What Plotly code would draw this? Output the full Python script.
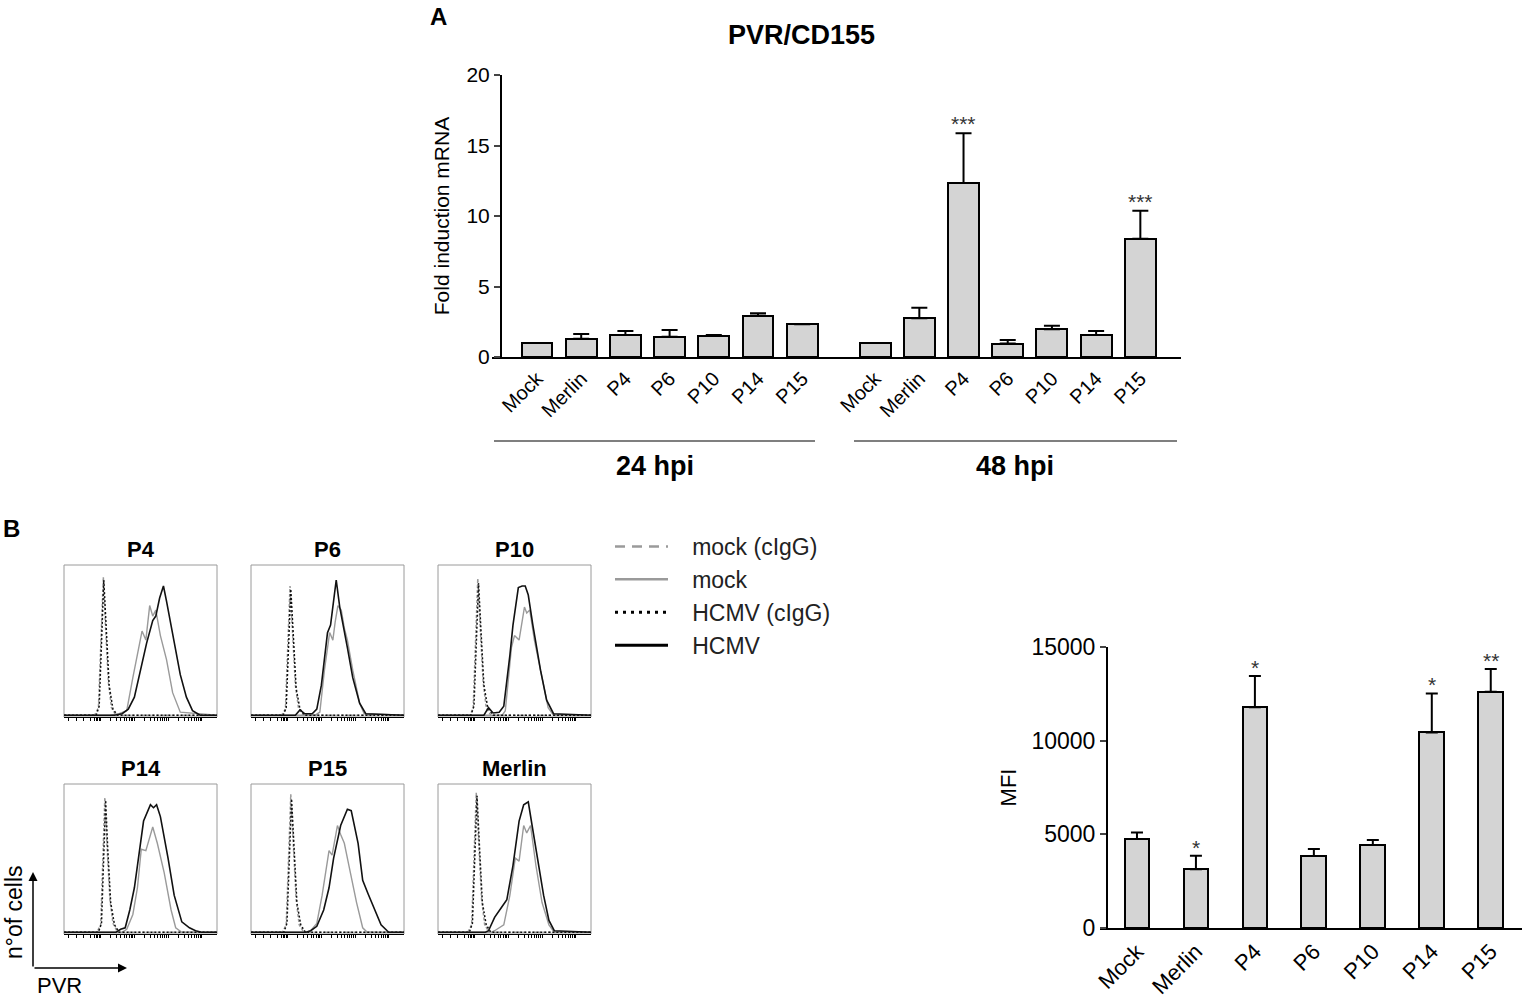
import numpy as np
import plotly.graph_objects as go

W, H = 1535, 999
FONT = "Liberation Sans, Arial, sans-serif"

# ---------------- panel A : PVR/CD155 mRNA ----------------
A_LABELS = ["Mock", "Merlin", "P4", "P6", "P10", "P14", "P15"]
A_24H = [1.0, 1.30, 1.56, 1.44, 1.49, 2.93, 2.32]
A_24H_ERR = [0.0, 0.33, 0.28, 0.47, 0.07, 0.17, 0.0]
A_48H = [1.0, 2.74, 12.34, 0.95, 1.96, 1.56, 8.39]
A_48H_ERR = [0.0, 0.76, 3.52, 0.25, 0.26, 0.28, 1.99]
A_48H_STARS = ["", "", "***", "", "", "", "***"]
A_YTICKS = [0, 5, 10, 15, 20]
A_GROUPS = ["24 hpi", "48 hpi"]

# ---------------- panel B : MFI ----------------
B_LABELS = ["Mock", "Merlin", "P4", "P6", "P10", "P14", "P15"]
B_MFI = [4750, 3130, 11780, 3840, 4430, 10440, 12610]
B_MFI_ERR = [350, 730, 1670, 375, 270, 2080, 1210]
B_STARS = ["", "*", "*", "", "", "*", "**"]
B_YTICKS = [0, 5000, 10000, 15000]
B_YTICK_LABELS = ["0", "5000", "10000", "15000"]

# ---------------- panel B : histograms (0-1 scale) ----------------
HIST_PANELS = ["P4", "P6", "P10", "P14", "P15", "Merlin"]
LEGEND_NAMES = ["mock (cIgG)", "mock", "HCMV (cIgG)", "HCMV"]

P4_MOCK_IGG_X = [0.0, 0.20, 0.225, 0.24, 0.257, 0.27, 0.29, 0.31, 0.34, 1.0]
P4_MOCK_IGG_Y = [0, 0, 0.05, 0.45, 0.92, 0.62, 0.22, 0.05, 0.0, 0]
P4_HCMV_IGG_X = [0.0, 0.21, 0.23, 0.245, 0.26, 0.275, 0.295, 0.32, 0.35, 1.0]
P4_HCMV_IGG_Y = [0, 0, 0.06, 0.5, 0.90, 0.6, 0.2, 0.04, 0, 0]
P4_MOCK_X = [0, 0.30, 0.36, 0.41, 0.45, 0.49, 0.51, 0.535, 0.56, 0.58, 0.60, 0.63, 0.67, 0.71, 0.76, 1.0]
P4_MOCK_Y = [0, 0, 0.01, 0.03, 0.25, 0.45, 0.56, 0.50, 0.73, 0.66, 0.70, 0.53, 0.37, 0.15, 0.02, 0]
P4_HCMV_X = [0, 0.33, 0.38, 0.42, 0.46, 0.50, 0.54, 0.58, 0.60, 0.625, 0.65, 0.67, 0.70, 0.73, 0.76, 0.80, 0.84, 0.89, 1.0]
P4_HCMV_Y = [0, 0, 0.01, 0.04, 0.12, 0.3, 0.48, 0.63, 0.66, 0.78, 0.86, 0.76, 0.6, 0.42, 0.27, 0.12, 0.03, 0, 0]

P6_MOCK_IGG_X = [0, 0.20, 0.225, 0.24, 0.255, 0.27, 0.29, 0.31, 0.34, 1]
P6_MOCK_IGG_Y = [0, 0, 0.04, 0.42, 0.86, 0.58, 0.2, 0.05, 0, 0]
P6_HCMV_IGG_X = [0, 0.21, 0.23, 0.245, 0.26, 0.275, 0.295, 0.32, 0.35, 1]
P6_HCMV_IGG_Y = [0, 0, 0.05, 0.45, 0.84, 0.56, 0.18, 0.04, 0, 0]
P6_MOCK_X = [0, 0.42, 0.45, 0.48, 0.514, 0.535, 0.55, 0.568, 0.59, 0.61, 0.63, 0.665, 0.71, 0.74, 1]
P6_MOCK_Y = [0, 0, 0.02, 0.3, 0.55, 0.5, 0.62, 0.73, 0.70, 0.58, 0.5, 0.3, 0.08, 0.01, 0]
P6_HCMV_X = [0, 0.29, 0.32, 0.35, 0.40, 0.43, 0.46, 0.48, 0.50, 0.52, 0.54, 0.557, 0.58, 0.60, 0.63, 0.665, 0.71, 0.75, 1]
P6_HCMV_Y = [0, 0, 0.035, 0.01, 0.01, 0.04, 0.2, 0.38, 0.55, 0.6, 0.78, 0.90, 0.72, 0.62, 0.45, 0.25, 0.08, 0.01, 0]

P10_MOCK_IGG_X = [0, 0.21, 0.23, 0.245, 0.26, 0.275, 0.295, 0.315, 0.345, 1]
P10_MOCK_IGG_Y = [0, 0, 0.05, 0.5, 0.91, 0.6, 0.22, 0.05, 0, 0]
P10_HCMV_IGG_X = [0, 0.215, 0.235, 0.25, 0.265, 0.28, 0.30, 0.325, 0.36, 1]
P10_HCMV_IGG_Y = [0, 0, 0.06, 0.5, 0.88, 0.58, 0.2, 0.05, 0, 0]
P10_MOCK_X = [0, 0.42, 0.44, 0.48, 0.50, 0.53, 0.565, 0.58, 0.60, 0.63, 0.68, 0.72, 0.755, 1]
P10_MOCK_Y = [0, 0, 0.03, 0.45, 0.53, 0.5, 0.72, 0.68, 0.70, 0.5, 0.25, 0.05, 0, 0]
P10_HCMV_X = [0, 0.30, 0.33, 0.36, 0.40, 0.43, 0.47, 0.49, 0.525, 0.55, 0.57, 0.59, 0.62, 0.67, 0.71, 0.755, 1]
P10_HCMV_Y = [0, 0, 0.05, 0.015, 0.02, 0.06, 0.4, 0.6, 0.85, 0.86, 0.86, 0.8, 0.6, 0.3, 0.1, 0.01, 0]

P14_MOCK_IGG_X = [0, 0.215, 0.24, 0.255, 0.267, 0.28, 0.30, 0.32, 0.35, 1]
P14_MOCK_IGG_Y = [0, 0, 0.05, 0.48, 0.91, 0.6, 0.22, 0.06, 0, 0]
P14_HCMV_IGG_X = [0, 0.225, 0.245, 0.26, 0.272, 0.285, 0.305, 0.33, 0.36, 1]
P14_HCMV_IGG_Y = [0, 0, 0.06, 0.5, 0.89, 0.58, 0.2, 0.05, 0, 0]
P14_MOCK_X = [0, 0.38, 0.41, 0.45, 0.48, 0.505, 0.535, 0.58, 0.61, 0.655, 0.70, 0.73, 0.77, 1]
P14_MOCK_Y = [0, 0, 0.02, 0.12, 0.3, 0.56, 0.55, 0.71, 0.60, 0.4, 0.15, 0.03, 0, 0]
P14_HCMV_X = [0, 0.34, 0.37, 0.40, 0.43, 0.46, 0.48, 0.52, 0.565, 0.585, 0.605, 0.63, 0.68, 0.72, 0.77, 0.82, 0.86, 0.9, 1]
P14_HCMV_Y = [0, 0, 0.02, 0.03, 0.15, 0.3, 0.45, 0.75, 0.86, 0.84, 0.86, 0.78, 0.5, 0.25, 0.07, 0.03, 0.01, 0, 0]

P15_MOCK_IGG_X = [0, 0.205, 0.23, 0.245, 0.26, 0.275, 0.295, 0.315, 0.345, 1]
P15_MOCK_IGG_Y = [0, 0, 0.05, 0.5, 0.93, 0.62, 0.22, 0.05, 0, 0]
P15_HCMV_IGG_X = [0, 0.215, 0.235, 0.25, 0.265, 0.28, 0.30, 0.325, 0.355, 1]
P15_HCMV_IGG_Y = [0, 0, 0.06, 0.52, 0.90, 0.6, 0.2, 0.05, 0, 0]
P15_MOCK_X = [0, 0.36, 0.39, 0.43, 0.465, 0.51, 0.53, 0.565, 0.586, 0.61, 0.64, 0.69, 0.73, 0.76, 1]
P15_MOCK_Y = [0, 0, 0.01, 0.06, 0.25, 0.55, 0.52, 0.72, 0.66, 0.6, 0.45, 0.2, 0.03, 0, 0]
P15_HCMV_X = [0, 0.36, 0.39, 0.43, 0.475, 0.51, 0.54, 0.586, 0.63, 0.655, 0.70, 0.73, 0.765, 0.81, 0.85, 0.90, 1]
P15_HCMV_Y = [0, 0, 0.01, 0.04, 0.15, 0.3, 0.5, 0.72, 0.83, 0.82, 0.6, 0.35, 0.26, 0.15, 0.05, 0, 0]

MERLIN_MOCK_IGG_X = [0, 0.195, 0.22, 0.235, 0.25, 0.265, 0.285, 0.305, 0.335, 1]
MERLIN_MOCK_IGG_Y = [0, 0, 0.05, 0.5, 0.94, 0.62, 0.22, 0.05, 0, 0]
MERLIN_HCMV_IGG_X = [0, 0.205, 0.225, 0.24, 0.255, 0.27, 0.29, 0.315, 0.345, 1]
MERLIN_HCMV_IGG_Y = [0, 0, 0.06, 0.52, 0.92, 0.6, 0.2, 0.05, 0, 0]
MERLIN_MOCK_X = [0, 0.35, 0.37, 0.43, 0.47, 0.505, 0.53, 0.56, 0.58, 0.605, 0.64, 0.68, 0.725, 0.76, 1]
MERLIN_MOCK_Y = [0, 0, 0.01, 0.05, 0.25, 0.5, 0.48, 0.72, 0.67, 0.72, 0.45, 0.2, 0.05, 0, 0]
MERLIN_HCMV_X = [0, 0.31, 0.33, 0.37, 0.41, 0.45, 0.49, 0.53, 0.56, 0.59, 0.615, 0.65, 0.69, 0.725, 0.76, 1]
MERLIN_HCMV_Y = [0, 0, 0.01, 0.1, 0.16, 0.22, 0.45, 0.75, 0.86, 0.88, 0.72, 0.5, 0.25, 0.08, 0.01, 0]

HIST_CURVES = [
    (P4_MOCK_IGG_X, P4_MOCK_IGG_Y, P4_MOCK_X, P4_MOCK_Y, P4_HCMV_IGG_X, P4_HCMV_IGG_Y, P4_HCMV_X, P4_HCMV_Y),
    (P6_MOCK_IGG_X, P6_MOCK_IGG_Y, P6_MOCK_X, P6_MOCK_Y, P6_HCMV_IGG_X, P6_HCMV_IGG_Y, P6_HCMV_X, P6_HCMV_Y),
    (P10_MOCK_IGG_X, P10_MOCK_IGG_Y, P10_MOCK_X, P10_MOCK_Y, P10_HCMV_IGG_X, P10_HCMV_IGG_Y, P10_HCMV_X, P10_HCMV_Y),
    (P14_MOCK_IGG_X, P14_MOCK_IGG_Y, P14_MOCK_X, P14_MOCK_Y, P14_HCMV_IGG_X, P14_HCMV_IGG_Y, P14_HCMV_X, P14_HCMV_Y),
    (P15_MOCK_IGG_X, P15_MOCK_IGG_Y, P15_MOCK_X, P15_MOCK_Y, P15_HCMV_IGG_X, P15_HCMV_IGG_Y, P15_HCMV_X, P15_HCMV_Y),
    (MERLIN_MOCK_IGG_X, MERLIN_MOCK_IGG_Y, MERLIN_MOCK_X, MERLIN_MOCK_Y,
     MERLIN_HCMV_IGG_X, MERLIN_HCMV_IGG_Y, MERLIN_HCMV_X, MERLIN_HCMV_Y),
]

GRAY = "#9a9a9a"
BAR_FILL = "#d4d4d4"
NB = "\u00a0"


# pixel position on the 1535x999 page -> paper fraction
def px_x(v):
    return v / W


def px_y(v):
    return 1 - v / H


def txt(text, x, y, size, bold=False, **kw):
    if bold:
        text = "<b>%s</b>" % text
    d = dict(text=text, x=px_x(x), y=px_y(y), xref="paper", yref="paper", xanchor="center",
             yanchor="middle", showarrow=False, font=dict(size=size, color="black"))
    d.update(kw)
    return d


fig = go.Figure()

# ---- panel A bars ----
GAP = 7.65
pos_24 = list(range(len(A_LABELS)))
pos_48 = [i + GAP for i in range(len(A_LABELS))]
for pos, vals, err in [(pos_24, A_24H, A_24H_ERR), (pos_48, A_48H, A_48H_ERR)]:
    fig.add_trace(go.Bar(
        x=pos, y=vals, width=0.7, xaxis="x", yaxis="y",
        marker=dict(color=BAR_FILL, line=dict(color="black", width=2)),
        error_y=dict(type="data", array=err, arrayminus=[0] * len(err), symmetric=False,
                     color="black", thickness=2, width=8),
        showlegend=False, hoverinfo="skip"))

# ---- MFI bars ----
fig.add_trace(go.Bar(
    x=list(range(len(B_LABELS))), y=B_MFI, width=0.42, xaxis="x8", yaxis="y8",
    marker=dict(color=BAR_FILL, line=dict(color="black", width=2)),
    error_y=dict(type="data", array=B_MFI_ERR, arrayminus=[0] * len(B_MFI_ERR), symmetric=False,
                 color="black", thickness=2, width=6),
    showlegend=False, hoverinfo="skip"))

# ---- histograms ----
styles = [
    dict(color=GRAY, width=1.5, dash="3px,2px"),
    dict(color=GRAY, width=1.4),
    dict(color="#111111", width=1.5, dash="2px,2px"),
    dict(color="#111111", width=1.6),
]
for k, curves in enumerate(HIST_CURVES):
    ax = str(k + 2)
    for j in range(4):
        fig.add_trace(go.Scatter(
            x=curves[2 * j], y=curves[2 * j + 1], mode="lines",
            line=styles[j], xaxis="x" + ax, yaxis="y" + ax,
            showlegend=False, hoverinfo="skip"))

# legend entries
legend_styles = [
    dict(color=GRAY, width=2.5, dash="10px,7px"),
    dict(color=GRAY, width=2.5),
    dict(color="black", width=3, dash="3px,5px"),
    dict(color="black", width=3),
]
for name, st in zip(LEGEND_NAMES, legend_styles):
    fig.add_trace(go.Scatter(x=[None], y=[None], mode="lines", name=NB * 3 + name, line=st,
                             xaxis="x2", yaxis="y2"))

# ---- axes ----
layout = {}
layout["xaxis"] = dict(domain=[px_x(492), px_x(1181)], range=[-1.018, 14.57],
                       tickvals=pos_24 + pos_48, ticktext=A_LABELS + A_LABELS,
                       tickangle=-45, ticks="", showline=True, linecolor="black", linewidth=2,
                       tickfont=dict(size=20, color="black"), showgrid=False, zeroline=False,
                       anchor="y", automargin=False)
layout["yaxis"] = dict(domain=[px_y(357), px_y(75)], range=[0, 20], tickvals=A_YTICKS,
                       ticks="outside", ticklen=6, tickwidth=2, showline=True,
                       linecolor="black", linewidth=2, showgrid=False, zeroline=False,
                       tickfont=dict(size=21, color="black"), anchor="free",
                       position=px_x(501), automargin=False,
                       title=dict(text="Fold induction mRNA", font=dict(size=21, color="black"),
                                  standoff=10))

layout["xaxis8"] = dict(domain=[px_x(1100), px_x(1522)], range=[-0.627, 6.53],
                        tickvals=list(range(len(B_LABELS))), ticktext=B_LABELS, tickangle=-45,
                        ticks="", showline=True, linecolor="black", linewidth=2,
                        tickfont=dict(size=22, color="black"), showgrid=False, zeroline=False,
                        anchor="y8", automargin=False)
layout["yaxis8"] = dict(domain=[px_y(928), px_y(647)], range=[0, 15000], tickvals=B_YTICKS,
                        ticktext=B_YTICK_LABELS,
                        ticks="outside", ticklen=6, tickwidth=2, showline=True,
                        linecolor="black", linewidth=2, showgrid=False, zeroline=False,
                        tickfont=dict(size=23, color="black"), anchor="free",
                        position=px_x(1107), automargin=False,
                        title=dict(text="MFI", font=dict(size=22, color="black"), standoff=8))

# histogram tick marks (log-like decades)
hist_ticks = [0.03, 0.08, 0.13, 0.17, 0.20, 0.212, 0.222, 0.23]
for d0 in [0.24, 0.46, 0.68]:
    hist_ticks += [d0 + 0.22 * np.log10(m) for m in range(1, 10)]
hist_ticks.append(0.90)

cols = [(64, 217), (251, 404), (438, 591)]
rows = [(565, 717), (784, 934)]
annotations = []
shapes = []
for k, name in enumerate(HIST_PANELS):
    x0, x1 = cols[k % 3]
    y0, y1 = rows[k // 3]
    n = str(k + 2)
    layout["xaxis" + n] = dict(domain=[px_x(x0), px_x(x1)], range=[0, 1], anchor="y" + n,
                               tickvals=hist_ticks, showticklabels=False, ticks="outside",
                               ticklen=3, tickcolor="black", tickwidth=1, showline=True,
                               linecolor="black", linewidth=1, showgrid=False, zeroline=False,
                               automargin=False)
    layout["yaxis" + n] = dict(domain=[px_y(y1), px_y(y0)], range=[-0.012, 1], anchor="x" + n,
                               showticklabels=False, ticks="", showline=False, showgrid=False,
                               zeroline=False, automargin=False)
    shapes.append(dict(type="rect", xref="x%s domain" % n, yref="y%s domain" % n,
                       x0=0, x1=1, y0=0, y1=1, line=dict(color=GRAY, width=1), layer="below"))
    annotations.append(dict(text="<b>%s</b>" % name, xref="x%s domain" % n, yref="y%s domain" % n,
                            x=0.5, y=1, xanchor="center", yanchor="bottom", yshift=1,
                            showarrow=False, font=dict(size=22, color="black")))

# stars
for i, s in enumerate(A_48H_STARS):
    if s:
        annotations.append(dict(text=s, x=pos_48[i], y=A_48H[i] + A_48H_ERR[i], xref="x", yref="y",
                                xanchor="center", yanchor="bottom", yshift=-4, showarrow=False,
                                font=dict(size=21, color="#333333")))
for i, s in enumerate(B_STARS):
    if s:
        annotations.append(dict(text=s, x=i, y=B_MFI[i] + B_MFI_ERR[i], xref="x8", yref="y8",
                                xanchor="center", yanchor="bottom", yshift=-5, showarrow=False,
                                font=dict(size=21, color="#333333")))

# group lines and labels for panel A
for (lx0, lx1, cx), label in zip([(494, 815, 655), (854, 1177, 1015)], A_GROUPS):
    shapes.append(dict(type="line", xref="paper", yref="paper", x0=px_x(lx0), x1=px_x(lx1),
                       y0=px_y(441), y1=px_y(441), line=dict(color="black", width=1.2)))
    annotations.append(txt(label, cx, 466, 27, bold=True))

# panel letters, titles, cell-count axis
annotations += [
    txt("A", 438, 17, 24, bold=True),
    txt("B", 11, 528, 24, bold=True),
    txt("PVR/CD155", 801, 35, 27, bold=True),
    txt("n°of cells", 14, 912, 23, textangle=-90),
    txt("PVR", 60, 985, 22),
    dict(text="", x=px_x(33), y=px_y(872), xref="paper", yref="paper", ax=0, ay=96,
         showarrow=True, arrowhead=2, arrowsize=1.2, arrowwidth=1.5, arrowcolor="black"),
    dict(text="", x=px_x(127), y=px_y(968), xref="paper", yref="paper", ax=-94, ay=0,
         showarrow=True, arrowhead=2, arrowsize=1.2, arrowwidth=1.5, arrowcolor="black"),
]

fig.update_layout(
    **layout,
    width=W, height=H,
    margin=dict(l=0, r=0, t=0, b=0, pad=0, autoexpand=False),
    paper_bgcolor="white", plot_bgcolor="white",
    font=dict(family=FONT, color="black"),
    bargap=0,
    annotations=annotations,
    shapes=shapes,
    showlegend=True,
    legend=dict(x=px_x(610), y=px_y(525), xanchor="left", yanchor="top",
                font=dict(size=23, color="#222222"), itemwidth=53,
                bgcolor="rgba(0,0,0,0)"),
)

# the page body has a default 8px margin; drop it so the figure sits at the window origin
fig.write_html("out.html", config={"displayModeBar": False},
               post_script="document.body.style.margin = '0';")
